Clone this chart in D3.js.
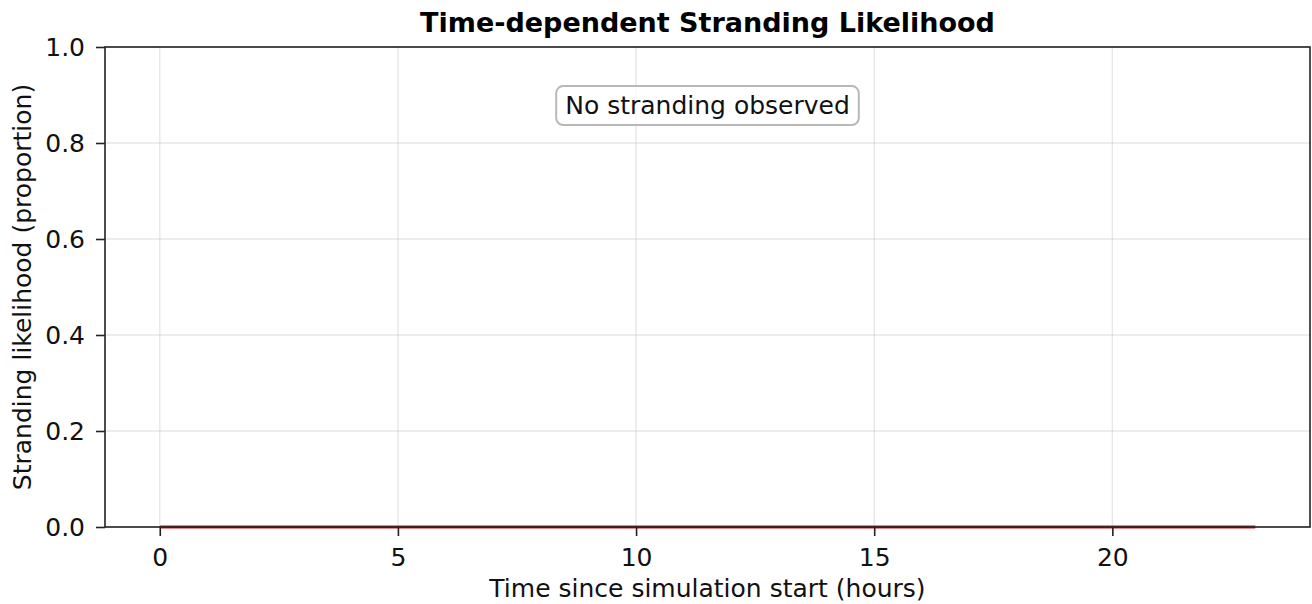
<!DOCTYPE html>
<html>
<head>
<meta charset="utf-8">
<script src="https://cdn.jsdelivr.net/npm/d3@7"></script>
<style>
body { margin: 0; background: #fff; }
svg { display: block; font-family: "DejaVu Sans", sans-serif; }
</style>
</head>
<body>
<div id="chart"></div>
<script>
// hours since simulation start and stranding proportion (all zero in the picture)
var hours = [0,1,2,3,4,5,6,7,8,9,10,11,12,13,14,15,16,17,18,19,20,21,22,23]
var likelihood = [0,0,0,0,0,0,0,0,0,0,0,0,0,0,0,0,0,0,0,0,0,0,0,0]
var xTicks = [0,5,10,15,20]
var yTicks = [0,0.2,0.4,0.6,0.8,1.0]
var titleText = "Time-dependent Stranding Likelihood"
var xLabel = "Time since simulation start (hours)"
var yLabel = "Stranding likelihood (proportion)"
var noteText = "No stranding observed"

var W = 1312, H = 604
var margin = {left:105, right:2, top:47, bottom:77}
var innerW = W - margin.left - margin.right
var innerH = H - margin.top - margin.bottom
var fs = "25px"

var svg = d3.select("#chart").append("svg")
    .attr("width", W).attr("height", H)

var xPad = (d3.max(hours) - d3.min(hours)) * 0.05
var x = d3.scaleLinear()
    .domain([d3.min(hours) - xPad, d3.max(hours) + xPad])
    .range([0, innerW])
var y = d3.scaleLinear().domain([0, 1]).range([innerH, 0])

var g = svg.append("g").attr("transform", "translate(" + margin.left + "," + margin.top + ")")

// grid
g.append("g").selectAll("line").data(xTicks).enter().append("line")
    .attr("x1", d => x(d)).attr("x2", d => x(d))
    .attr("y1", 0).attr("y2", innerH)
    .attr("stroke", "#b0b0b0").attr("stroke-opacity", 0.3).attr("stroke-width", 1.4)
g.append("g").selectAll("line").data(yTicks).enter().append("line")
    .attr("y1", d => y(d)).attr("y2", d => y(d))
    .attr("x1", 0).attr("x2", innerW)
    .attr("stroke", "#b0b0b0").attr("stroke-opacity", 0.3).attr("stroke-width", 1.4)

// series line
var pts = hours.map((h, i) => ({h: h, v: likelihood[i]}))
g.append("path")
    .datum(pts)
    .attr("fill", "none")
    .attr("stroke", "#c8161d")
    .attr("stroke-width", 3)
    .attr("d", d3.line().x(d => x(d.h)).y(d => y(d.v)))

// axes
var xAxis = g.append("g").attr("transform", "translate(0," + innerH + ")")
    .call(d3.axisBottom(x).tickValues(xTicks).tickSize(9).tickPadding(12).tickFormat(d3.format("d")))
var yAxis = g.append("g")
    .call(d3.axisLeft(y).tickValues(yTicks).tickSize(9).tickPadding(11).tickFormat(d3.format(".1f")))
;[xAxis, yAxis].forEach(a => {
    a.select(".domain").remove()
    a.selectAll("line").attr("stroke", "#222").attr("stroke-width", 1.6)
    a.selectAll("text").attr("fill", "#111").style("font-size", fs).style("font-family", "DejaVu Sans")
})

// frame
g.append("rect")
    .attr("x", 0).attr("y", 0).attr("width", innerW).attr("height", innerH)
    .attr("fill", "none").attr("stroke", "#222").attr("stroke-width", 1.6)

// note box
var note = g.append("g").attr("transform", "translate(" + (innerW / 2) + "," + (innerH * 0.12) + ")")
var nt = note.append("text")
    .attr("text-anchor", "middle").attr("dy", "0.36em")
    .style("font-size", fs).attr("fill", "#111")
    .text(noteText)
var bb = nt.node().getBBox()
note.insert("rect", "text")
    .attr("x", bb.x - 9).attr("y", -18.5)
    .attr("width", bb.width + 18).attr("height", 39)
    .attr("rx", 7).attr("ry", 7)
    .attr("fill", "#fff").attr("fill-opacity", 0.8)
    .attr("stroke", "#b8b8b8").attr("stroke-width", 2)

// title and labels
svg.append("text")
    .attr("x", margin.left + innerW / 2).attr("y", 32)
    .attr("text-anchor", "middle").attr("fill", "#000")
    .style("font-size", "27px").style("font-weight", "bold")
    .text(titleText)
svg.append("text")
    .attr("x", margin.left + innerW / 2).attr("y", 597)
    .attr("text-anchor", "middle").attr("fill", "#111")
    .style("font-size", fs)
    .text(xLabel)
svg.append("text")
    .attr("transform", "translate(31," + (margin.top + innerH / 2) + ") rotate(-90)")
    .attr("text-anchor", "middle").attr("fill", "#111")
    .style("font-size", fs)
    .text(yLabel)
</script>
</body>
</html>
